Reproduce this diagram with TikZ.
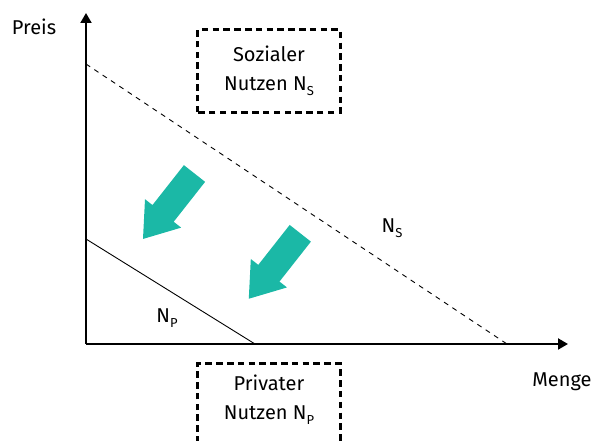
\documentclass[tikz,border=0pt]{standalone}
\usepackage{fontspec}
\setmainfont{Fira Sans}
\usepackage{xcolor}
\usetikzlibrary{arrows.meta}
\definecolor{arrowteal}{HTML}{1BB8A6}
\newcommand{\nsub}[1]{\raisebox{-0.45ex}{\fontsize{13}{13}\selectfont #1}}

\begin{document}
\begin{tikzpicture}[
		x=1pt,y=1pt,
		font=\fontsize{20}{29}\selectfont,
		axis/.style={line width=2pt,-{Triangle[length=10pt,width=11pt]}},
		curve/.style={line width=0.9pt},
		infobox/.style={minimum width=142pt,minimum height=82pt,align=center,inner sep=0pt},
		boxline/.style={line width=2.8pt,dash pattern=on 6.5pt off 4.3pt},
		lbl/.style={inner sep=0pt},
		fatarrow/.pic={\fill[arrowteal] (0,-13.5) -- (50.8,-13.5) -- (50.8,-23) -- (83.3,0)
			-- (50.8,23) -- (50.8,13.5) -- (0,13.5) -- cycle;},
		]
		\useasboundingbox (0,0) rectangle (595,441);
		\clip (0,0) rectangle (595,441);
		
		% axes
		\coordinate (O) at (86,97);
		\coordinate (ytop) at (86,428);
		\coordinate (xend) at (568,97);
		\draw[axis] (O) -- (ytop);
		\draw[axis] (O) -- (xend);
		\node[lbl] (preis) at (34,414) {Preis};
		\node[lbl] (menge) at (562,59) {Menge};
		
		% social and private benefit
		\coordinate (ns0) at (86,377);
		\coordinate (ns1) at (507,97);
		\draw[curve,dash pattern=on 5pt off 5pt] (ns0) -- (ns1);
		\coordinate (np0) at (86,202);
		\coordinate (np1) at (255,97);
		\draw[curve] (np0) -- (np1);
		\node[lbl] (nslabel) at (392,213) {N\nsub{S}};
		\node[lbl] (nplabel) at (167,123) {N\nsub{P}};
		
		% boxes
		\node[infobox] (sozial) at (269,370) {Sozialer\\Nutzen N\nsub{S}};
		\draw[boxline] (sozial.south west) rectangle (sozial.north east);
		\node[infobox,minimum height=100pt] (privat) at (269,27) {};
		\draw[boxline] (privat.south west) rectangle (privat.north east);
		\node[lbl,align=center] (privattext) at (269,41) {Privater\\Nutzen N\nsub{P}};
		
		% shift arrows
		\pic[rotate=231.8] at (194.5,267.5) {fatarrow};
		\pic[rotate=231.8] at (300.3,207.7) {fatarrow};
\end{tikzpicture}
\end{document}
